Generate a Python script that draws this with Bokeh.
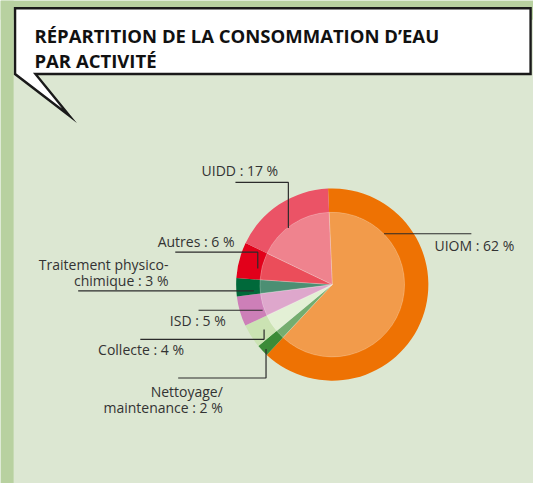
import numpy as np
from bokeh.plotting import figure
from bokeh.models import Range1d, ColumnDataSource
from bokeh.core.properties import value
from bokeh.embed import file_html
from bokeh.resources import INLINE

# ---- data ----
categories = ["UIOM", "Nettoyage/maintenance", "Collecte", "ISD",
              "Traitement physico-chimique", "Autres", "UIDD"]
values = [62, 2, 4, 5, 3, 6, 17]
outer_colors = ["#EE7203", "#3B8B37", "#CBE3B3", "#CD7FB8", "#00693A", "#E2001A", "#EB5366"]
inner_colors = ["#F29B4B", "#74AD6F", "#E3F0D5", "#DEA7CC", "#4C8F73", "#EB4D5A", "#EF838E"]
title_lines = ["RÉPARTITION DE LA CONSOMMATION D’EAU", "PAR ACTIVITÉ"]
label_breaks = {"Traitement physico-chimique": ["Traitement physico-", "chimique"],
                "Nettoyage/maintenance": ["Nettoyage/", "maintenance"]}

# ---- layout (reference pixel coordinates, y downward) ----
W, H = 549, 499
def Y(y):
    return H - y

p = figure(width=533, height=483, x_range=Range1d(0, W), y_range=Range1d(0, H),
           output_backend="svg", toolbar_location=None,
           x_axis_location=None, y_axis_location=None, min_border=0)
p.grid.visible = False
p.outline_line_color = None
p.background_fill_color = "#DCE7D2"
p.border_fill_color = "#DCE7D2"

# side and top bands
p.quad(left=[0], right=[13.5], bottom=[Y(499)], top=[Y(0)], fill_color="#B8D1A0", line_color=None)
p.quad(left=[0], right=[549], bottom=[Y(20)], top=[Y(0)], fill_color="#B8D1A0", line_color=None)

# speech bubble title box
bx = [36, 546, 546, 15, 15, 71, 36]
by = [76, 76, 8, 8, 76, 119, 76]
p.patch(x=bx, y=[Y(v) for v in by], fill_color="white", line_color="#1a1a1a", line_width=2.4,
        line_join="miter")
for i, t in enumerate(title_lines):
    p.text(x=[35], y=[Y(36 + i * 26)], text=[t], text_font=value("Open Sans"),
           text_font_style="bold", text_font_size="18.5px", text_color="#111111",
           text_baseline="middle", text_align="left")

# ---- pie ----
cx, cy = 341.7, Y(293.5)
vals = np.array(values, dtype=float)
frac = vals / vals.sum()
start_deg = 92.5
ends = start_deg - np.concatenate([[0], np.cumsum(frac)[:-1]]) * 360
starts = ends - frac * 360
src = ColumnDataSource(dict(s=np.radians(starts), e=np.radians(ends),
                            oc=outer_colors, ic=inner_colors, cat=categories, v=values))
p.annular_wedge(x=cx, y=cy, inner_radius=74, outer_radius=99, start_angle="s", end_angle="e",
                fill_color="oc", line_color=None, source=src)
p.wedge(x=cx, y=cy, radius=74.5, start_angle="s", end_angle="e",
        fill_color="ic", line_color="#ffffff", line_alpha=0.35, line_width=0.6, source=src)

# ---- leader lines ----
leaders = [
    [(395, 241), (485, 241)],                       # UIOM
    [(183, 390), (273.5, 390), (273.5, 360)],       # Nettoyage
    [(144, 350), (271.5, 350), (271.5, 340)],       # Collecte
    [(204, 320), (270, 320)],                       # ISD
    [(80, 300), (261, 300)],                        # Traitement
    [(180, 260), (265, 260), (265, 277)],           # Autres
    [(242, 188), (296.5, 188), (296.5, 235)],       # UIDD
]
p.multi_line(xs=[[pt[0] for pt in L] for L in leaders],
             ys=[[Y(pt[1]) for pt in L] for L in leaders],
             line_color="#2b2b2b", line_width=1.2)

# ---- labels ----
label_pos = [  # anchor x, first-line y, align
    (447, 253, "left"),
    (229, 404, "right"),
    (189, 361, "right"),
    (232, 331, "right"),
    (173, 273, "right"),
    (241, 249, "right"),
    (286, 176, "right"),
]
for cat, v, (lx, ly, al) in zip(categories, values, label_pos):
    lines = list(label_breaks.get(cat, [cat]))
    lines[-1] = f"{lines[-1]} : {v} %"
    for j, ln in enumerate(lines):
        p.text(x=[lx], y=[Y(ly + j * 16.5)], text=[ln], text_font=value("Open Sans"),
               text_font_size="14px", text_color="#333333", text_baseline="middle",
               text_align=al)

open("out.html", "w").write(file_html(p, INLINE))
